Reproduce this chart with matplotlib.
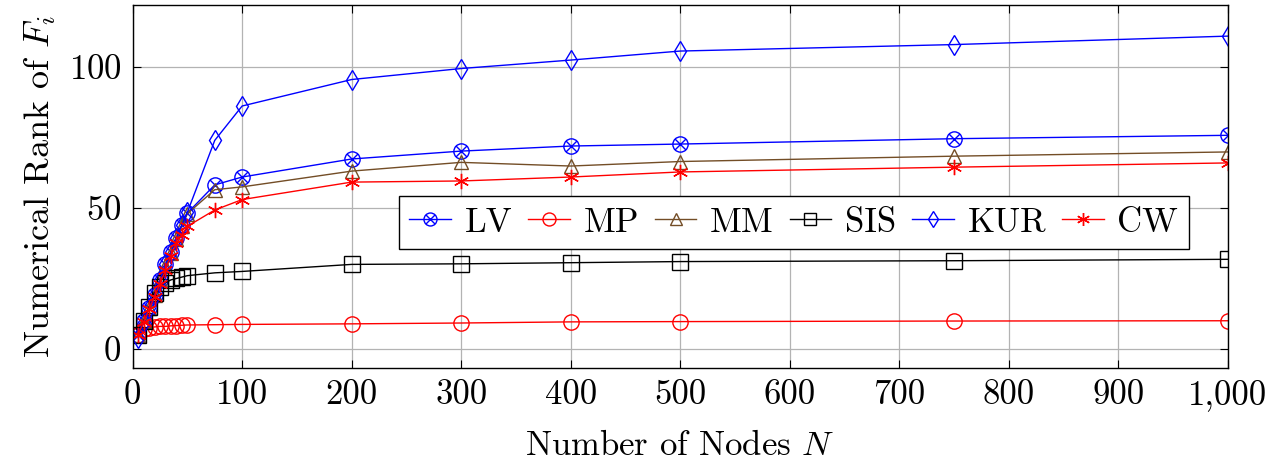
import matplotlib
matplotlib.use('Agg')
import matplotlib.pyplot as plt
from matplotlib.path import Path
from matplotlib.ticker import FuncFormatter
import numpy as np

plt.rcParams['font.family'] = 'serif'
plt.rcParams['font.serif'] = ['cmr10']
plt.rcParams['mathtext.fontset'] = 'cm'
plt.rcParams['axes.formatter.use_mathtext'] = True

# data
nodes = [5, 10, 15, 20, 25, 30, 35, 40, 45, 50, 75, 100, 200, 300, 400, 500, 750, 1000]
lv  = [5, 10, 14.5, 19, 24.5, 30, 34.5, 39.5, 44, 48.2, 58.2, 61, 67.4, 70.2, 72, 72.7, 74.6, 75.8]
mp  = [5, 7, 7.5, 7.8, 8, 8, 8.2, 8.3, 8.4, 8.5, 8.6, 8.7, 8.9, 9.2, 9.6, 9.7, 9.9, 10]
mm  = [5, 10, 14.5, 19, 24.5, 29.5, 34, 39, 43.5, 48, 56.5, 57.5, 63.1, 66.2, 64.9, 66.5, 68.4, 69.9]
sis = [5, 10, 15, 20, 22, 23.5, 24.5, 25, 25.5, 26, 27, 27.5, 30, 30.2, 30.6, 31, 31.3, 31.8]
kur = [4, 9.5, 14.5, 19, 24.5, 30, 34.5, 39.5, 44, 48.5, 74, 86.2, 95.6, 99.5, 102.5, 105.7, 108, 111]
cw  = [5, 9.5, 14, 18.5, 23, 28, 33, 37.5, 40.5, 43.5, 49.3, 53, 59.2, 59.6, 61, 62.8, 64.5, 66]

brown = (0.45, 0.3, 0.15)

# circle with a cross inside (pgfplots otimes)
circ = Path.unit_circle()
d = np.sqrt(0.5)
cross = Path([(-d, -d), (d, d), (-d, d), (d, -d)],
             [Path.MOVETO, Path.LINETO, Path.MOVETO, Path.LINETO])
otimes = Path.make_compound_path(circ, cross)

series = [
    ('LV', lv, 'blue', otimes, 11),
    ('MP', mp, 'red', 'o', 11),
    ('MM', mm, brown, '^', 10),
    ('SIS', sis, 'black', 's', 11),
    ('KUR', kur, 'blue', 'd', 10),
    ('CW', cw, 'red', (6, 2, 0), 11),
]

fig = plt.figure(figsize=(12.75, 4.65), dpi=100)
ax = fig.add_axes([0.104, 0.209, 0.859, 0.780])

for name, vals, col, mk, ms in series:
    ax.plot(nodes, vals, color=col, marker=mk, markersize=ms,
            markerfacecolor='none', markeredgecolor=col, markeredgewidth=1.0,
            linewidth=1.0, label=name)

ax.set_xlim(0, 1000)
ax.set_ylim(-6.7, 122)
ax.set_xticks(np.arange(0, 1001, 100))
ax.set_yticks([0, 50, 100])
ax.xaxis.set_major_formatter(FuncFormatter(lambda v, p: '{:,}'.format(int(v))))
ax.grid(True, color='#b3b3b3', linewidth=0.9)
ax.set_axisbelow(True)
ax.tick_params(direction='in', length=6, top=True, right=True, labelsize=25, pad=8)
for s in ax.spines.values():
    s.set_linewidth(1.0)

ax.set_xlabel('Number of Nodes $N$', fontsize=25, labelpad=14)
ax.set_ylabel('Numerical Rank of $F_i$', fontsize=26, labelpad=8)

leg = ax.legend(ncol=6, loc='center right', bbox_to_anchor=(0.98, 0.40),
                fontsize=25, handlelength=1.2, handletextpad=0.4, columnspacing=0.45,
                fancybox=False, edgecolor='black', framealpha=1, borderpad=0.3,
                markerscale=0.85)
leg.get_frame().set_linewidth(1.0)

fig.savefig('out.png', dpi=100)
